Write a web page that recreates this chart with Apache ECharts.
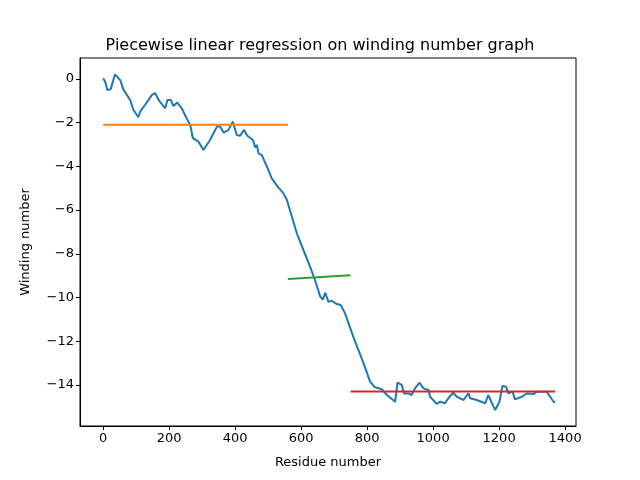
<!DOCTYPE html>
<html>
<head>
<meta charset="utf-8">
<script src="https://cdn.jsdelivr.net/npm/echarts@6/dist/echarts.min.js"></script>
<style>html,body{margin:0;padding:0;background:#fff}#main{width:640px;height:480px}</style>
</head>
<body>
<div id="main"></div>
<script>
// winding number curve
var residues = [0,6,13,23,36,52,62,82,92,107,112,127,148,158,168,188,195,205,213,225,238,253,264,272,289,304,324,345,355,365,380,393,405,415,427,437,454,461,466,471,481,496,511,530,545,557,587,627,642,658,666,673,683,693,708,720,733,758,789,809,824,845,860,885,892,905,912,925,935,945,959,971,986,991,1011,1021,1036,1046,1061,1072,1092,1107,1112,1132,1158,1167,1188,1201,1210,1221,1228,1241,1248,1269,1284,1304,1314,1344,1365,1370];
var winding = [0.03,-0.12,-0.5,-0.47,0.21,-0.05,-0.5,-0.96,-1.42,-1.75,-1.5,-1.19,-0.73,-0.65,-0.96,-1.34,-0.96,-0.96,-1.24,-1.08,-1.34,-1.8,-2.1,-2.71,-2.87,-3.25,-2.79,-2.18,-2.18,-2.45,-2.33,-1.95,-2.56,-2.6,-2.33,-2.6,-2.79,-3.13,-3.02,-3.4,-3.48,-4.0,-4.55,-4.95,-5.2,-5.54,-7.06,-8.59,-9.2,-9.96,-10.1,-9.78,-10.2,-10.15,-10.3,-10.34,-10.72,-11.79,-13.0,-13.85,-14.11,-14.2,-14.46,-14.77,-13.9,-14.0,-14.39,-14.39,-14.46,-14.16,-13.9,-14.16,-14.23,-14.54,-14.87,-14.77,-14.84,-14.61,-14.36,-14.54,-14.69,-14.39,-14.61,-14.69,-14.84,-14.46,-15.15,-14.77,-14.05,-14.08,-14.39,-14.31,-14.66,-14.54,-14.39,-14.42,-14.31,-14.31,-14.77,-14.8];
// fitted segments
var seg1 = [[0,-2.1],[560,-2.1]];
var seg2 = [[560,-9.15],[750,-8.98]];
var seg3 = [[750,-14.3],[1370,-14.3]];
var xTicks = [0,200,400,600,800,1000,1200,1400];
var yTicks = [-14,-12,-10,-8,-6,-4,-2,0];

var curve = residues.map(function(r,i){ return [r, winding[i]]; });
var font = 'DejaVu Sans';
var chart = echarts.init(document.getElementById('main'));
function line(data,color){
  return {type:'line',data:data,showSymbol:false,symbol:'none',lineStyle:{color:color,width:2},animation:false};
}
chart.setOption({
  animation:false,
  title:{text:'Piecewise linear regression on winding number graph',left:'center',top:33,
    textStyle:{fontFamily:font,fontSize:16,fontWeight:'normal',color:'#000'}},
  grid:{left:80,right:64,top:58,bottom:54,show:true,borderColor:'#000',borderWidth:1,backgroundColor:'transparent'},
  xAxis:{type:'value',min:-70,max:1433,name:'Residue number',nameLocation:'middle',nameGap:30,
    nameTextStyle:{fontFamily:font,fontSize:13,color:'#000'},
    axisLine:{show:true,onZero:false,lineStyle:{color:'#000'}},splitLine:{show:false},
    axisTick:{customValues:xTicks,length:4,inside:false,lineStyle:{color:'#000'}},
    axisLabel:{customValues:xTicks,fontFamily:font,fontSize:13,color:'#000',margin:6,
      formatter:function(v){ return String(v); }}},
  yAxis:{type:'value',min:-15.88,max:0.96,name:'Winding number',nameLocation:'middle',nameGap:48,
    nameTextStyle:{fontFamily:font,fontSize:13,color:'#000'},
    axisLine:{show:true,onZero:false,lineStyle:{color:'#000'}},splitLine:{show:false},
    axisTick:{show:true,customValues:yTicks,length:4,lineStyle:{color:'#000'}},
    axisLabel:{customValues:yTicks,fontFamily:font,fontSize:13,color:'#000',margin:6,
      formatter:function(v){ return String(v).replace('-','\u2212'); }}},
  series:[line(curve,'#1f77b4'),line(seg1,'#ff7f0e'),line(seg2,'#2ca02c'),line(seg3,'#d62728')]
});
</script>
</body>
</html>
